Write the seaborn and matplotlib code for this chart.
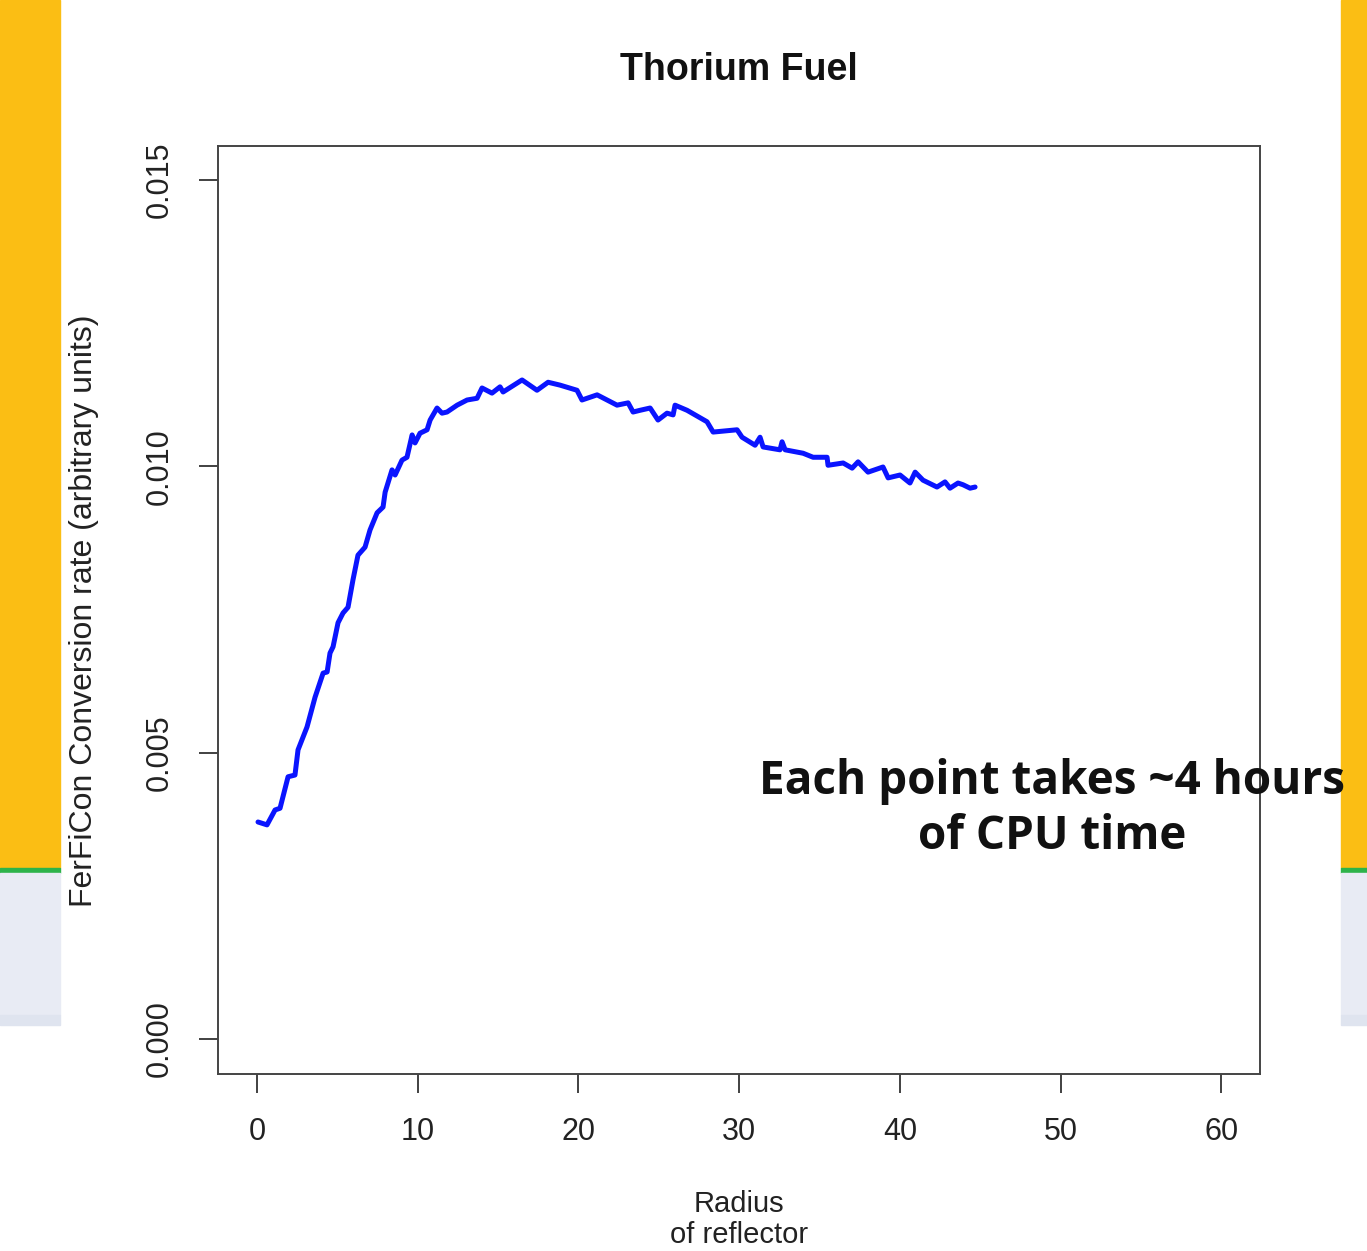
import matplotlib
matplotlib.use("Agg")
import matplotlib.pyplot as plt
from matplotlib.patches import Rectangle
import pandas as pd
import seaborn as sns

sns.set_style("white")
plt.rcParams["font.family"] = ["Liberation Sans", "DejaVu Sans"]

# radius of reflector vs conversion rate
radius = [
    0.06, 0.62, 1.12, 1.43, 1.93, 2.36, 2.55, 3.11, 3.61, 4.11,
    4.36, 4.54, 4.73, 5.04, 5.35, 5.66, 5.97, 6.28, 6.72, 7.03,
    7.47, 7.84, 7.97, 8.40, 8.59, 9.02, 9.33, 9.65, 9.83, 10.14,
    10.58, 10.77, 11.20, 11.51, 11.82, 12.45, 13.07, 13.69, 14.00, 14.62,
    15.12, 15.31, 16.49, 17.42, 18.11, 18.85, 19.91, 20.22, 21.16, 22.40,
    23.09, 23.40, 23.83, 24.46, 24.95, 25.51, 25.89, 26.01, 26.76, 28.00,
    28.38, 29.87, 30.18, 30.99, 31.30, 31.49, 32.54, 32.67, 32.86, 33.98,
    34.60, 35.47, 35.53, 36.47, 37.03, 37.40, 38.02, 38.95, 39.27, 40.01,
    40.63, 40.95, 41.44, 42.31, 42.81, 43.12, 43.62, 43.93, 44.37, 44.68,
]
rate_milli = [
    3.79, 3.74, 4.00, 4.03, 4.58, 4.61, 5.05, 5.45, 5.97, 6.39,
    6.41, 6.74, 6.85, 7.27, 7.44, 7.54, 8.02, 8.45, 8.59, 8.89,
    9.19, 9.29, 9.55, 9.94, 9.85, 10.11, 10.16, 10.55, 10.41, 10.58,
    10.64, 10.81, 11.02, 10.93, 10.95, 11.07, 11.16, 11.19, 11.37, 11.28,
    11.39, 11.30, 11.51, 11.33, 11.47, 11.42, 11.33, 11.16, 11.25, 11.07,
    11.11, 10.95, 10.98, 11.02, 10.81, 10.93, 10.90, 11.07, 10.98, 10.78,
    10.60, 10.64, 10.51, 10.37, 10.51, 10.34, 10.29, 10.43, 10.29, 10.23,
    10.16, 10.16, 10.02, 10.06, 9.97, 10.08, 9.90, 9.99, 9.80, 9.85,
    9.71, 9.90, 9.76, 9.64, 9.73, 9.62, 9.71, 9.68, 9.62, 9.64,
]
x_ticks = [0, 10, 20, 30, 40, 50, 60]
y_ticks = [0.000, 0.005, 0.010, 0.015]
y_tick_labels = ["0.000", "0.005", "0.010", "0.015"]

df = pd.DataFrame({"radius": radius, "rate": [v / 1000 for v in rate_milli]})

W, H = 1367, 1251
fig = plt.figure(figsize=(W / 100, H / 100), dpi=100, facecolor="white")


def fig_rect(x0, y0, x1, y1, color):
    # pixel box (top-left origin) -> figure rectangle
    fig.patches.append(Rectangle((x0 / W, 1 - y1 / H), (x1 - x0) / W, (y1 - y0) / H,
                                 transform=fig.transFigure, color=color, zorder=0))


# slide background strips on both sides of the white panel
for xa, xb in [(0, 60), (1341, 1367)]:
    fig_rect(xa, 0, xb, 868, "#FBBE14")
    fig_rect(xa, 868, xb, 873, "#2DB34A")
    fig_rect(xa, 873, xb, 1015, "#E8EBF4")
    fig_rect(xa, 1015, xb, 1025, "#DFE4EF")

ax = fig.add_axes([218 / W, 1 - 1074 / H, (1260 - 218) / W, (1074 - 146) / H])
ax.set_facecolor("white")

sns.lineplot(data=df, x="radius", y="rate", sort=False, estimator=None,
             color="#0A14FF", linewidth=3.6, ax=ax)

ax.set_xlim(-2.43, 62.41)
ax.set_ylim(-0.000611, 0.015596)
ax.set_xticks(x_ticks)
ax.set_xticklabels([str(t) for t in x_ticks])
ax.set_yticks(y_ticks)
ax.set_yticklabels(y_tick_labels, rotation=90, va="center")
ax.tick_params(direction="out", length=14, width=1.3, color="#333333",
               labelsize=22, labelcolor="#222222", pad=17)
ax.tick_params(axis="x", bottom=True)
ax.tick_params(axis="y", left=True)
for s in ax.spines.values():
    s.set_visible(True)
    s.set_color("#444444")
    s.set_linewidth(1.4)
ax.set_xlabel("")
ax.set_ylabel("")

fig.text(739 / W, 1 - 70 / H, "Thorium Fuel", ha="center", va="center",
         fontsize=27, fontweight="bold", color="#111111")
fig.text(84 / W, 1 - 611 / H, "FerFiCon Conversion rate (arbitrary units)",
         rotation=90, ha="center", va="center", fontsize=23, color="#222222")
fig.text(739 / W, 1 - 1249 / H, "Radius\nof reflector", ha="center", va="bottom",
         fontsize=21, color="#222222", linespacing=1.15)
fig.text(1052 / W, 1 - 809 / H, "Each point takes ~4 hours\nof CPU time",
         ha="center", va="center", fontsize=33, fontweight="bold",
         family=["Open Sans", "DejaVu Sans"], color="#111111", linespacing=1.2)

fig.savefig("out.png", dpi=100, facecolor="white")
